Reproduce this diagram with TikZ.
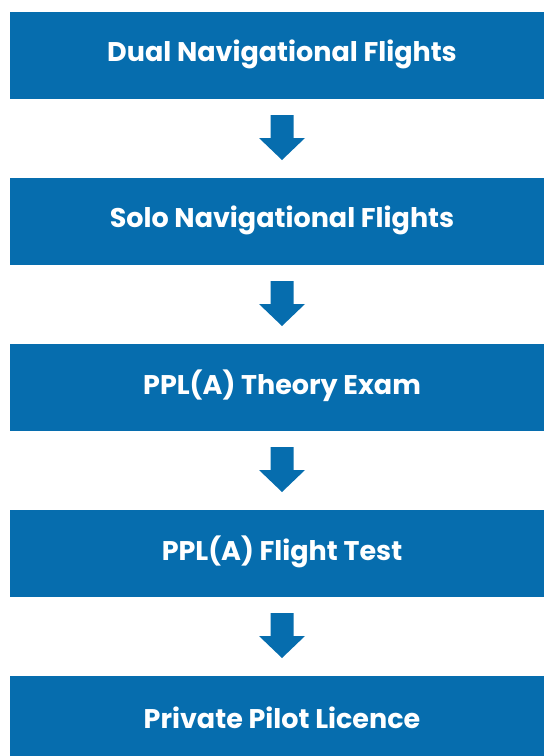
\documentclass[tikz,border=0pt]{standalone}
\usepackage{fontspec}
\setmainfont{Poppins}
\definecolor{boxblue}{RGB}{6,109,174}
\begin{document}
\begin{tikzpicture}[x=1pt,y=-1pt,
  stepbox/.style={fill=boxblue,draw=none,minimum width=534pt,minimum height=87pt,inner sep=0pt,anchor=north west},
  steplabel/.style={text=white,font=\bfseries\fontsize{27}{31}\selectfont,anchor=center}]
\useasboundingbox (0,0) rectangle (544,756);
\begin{scope}
\clip (0,0) rectangle (544,756);
\foreach \i/\t in {0/{Dual Navigational Flights},1/{Solo Navigational Flights},2/{PPL(A) Theory Exam},3/{PPL(A) Flight Test},4/{Private Pilot Licence}}{
  \node[stepbox] (b\i) at (10,{12+166*\i}) {};
  \node[steplabel] (t\i) at (282,{54+166*\i}) {\t};
}
\foreach \i in {0,1,2,3}{
  \coordinate (a\i) at (282,{99+166*\i});
  \fill[boxblue] ([shift={(-11.5,16)}]a\i) -- ([shift={(11.5,16)}]a\i) -- ([shift={(11.5,39)}]a\i) -- ([shift={(23,39)}]a\i) -- ([shift={(0,61)}]a\i) -- ([shift={(-23,39)}]a\i) -- ([shift={(-11.5,39)}]a\i) -- cycle;
}
\end{scope}
\end{tikzpicture}
\end{document}
